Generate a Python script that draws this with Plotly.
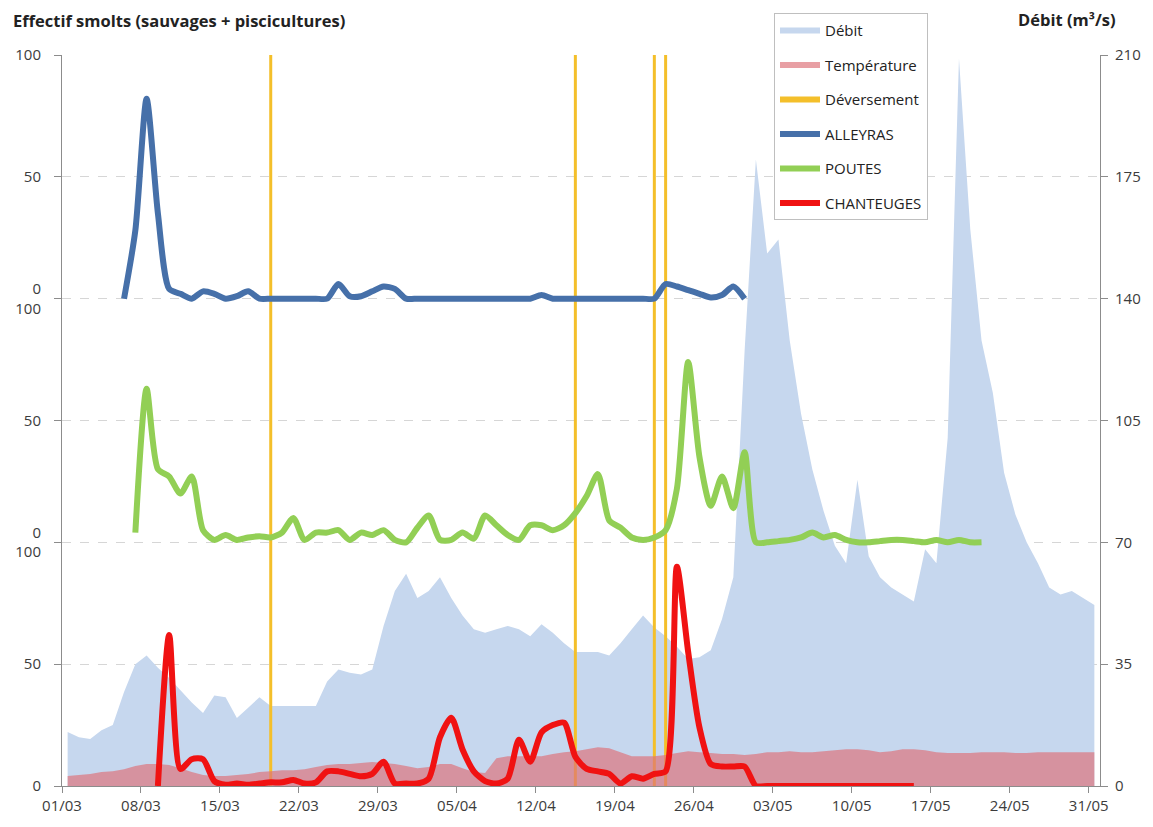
import pandas as pd
import plotly.graph_objects as go

# ---- daily calendar (01/03 -> 31/05), values plotted at the middle of each day
START = "2013-03-01"
N_DAYS = 92
days = pd.date_range(START, periods=N_DAYS, freq="D")
centres = days + pd.Timedelta(hours=12)

# ---- river flow (m3/s), one value per day
debit = [15.5, 14, 13.5, 16, 17.5, 27, 35, 37.5, 34, 31,
         27.5, 24, 21, 26, 25.5, 19.5, 22.5, 25.5, 23, 23,
         23, 23, 23, 30, 33.5, 32.5, 32, 33.5, 46, 56,
         61, 54, 56, 60, 54, 49, 45, 44, 45, 46,
         45, 43, 46.5, 44, 41, 38.5, 38.5, 38.5, 37.5, 41,
         45, 49, 45.5, 43, 40, 36.5, 37, 39, 48, 60,
         125, 180, 153, 157, 128, 107, 91, 79, 69, 64,
         88, 66, 60, 57, 55, 53, 68, 64, 100, 209,
         160, 128, 113, 90, 78, 70, 64, 57, 55, 56,
         54, 52]

# ---- water temperature, one value per day
temperature = [4.1, 4.5, 4.9, 5.7, 6.1, 6.9, 8.2, 9.0, 9.0, 8.6,
               7.3, 5.7, 4.5, 4.1, 4.1, 4.5, 4.9, 5.7, 6.1, 6.5,
               6.5, 6.9, 7.8, 8.6, 9.0, 9.0, 9.4, 9.8, 9.4, 9.0,
               8.2, 7.3, 7.8, 9.0, 9.0, 7.3, 5.7, 5.3, 11.4, 12.2,
               12.2, 12.2, 12.2, 13.1, 13.9, 14.3, 15.1, 15.9, 15.5, 13.9,
               12.2, 12.2, 12.2, 12.7, 13.5, 14.3, 13.9, 13.5, 13.1, 13.1,
               12.7, 13.1, 13.9, 13.9, 14.3, 13.9, 13.9, 14.3, 14.7, 15.1,
               15.1, 14.7, 13.9, 14.3, 15.1, 15.1, 14.7, 13.9, 13.5, 13.5,
               13.5, 13.9, 13.9, 13.9, 13.5, 13.5, 13.9, 13.9, 13.9, 13.9,
               13.9, 13.9]

# ---- spill days
deversements = ["2013-03-19", "2013-04-15", "2013-04-22", "2013-04-23"]

# ---- daily smolt counts per trapping site
alleyras_start = "2013-03-06"
alleyras = [0, 28, 82, 35, 4, 2, 0, 3, 2, 0,
            1, 3, 0, 0, 0, 0, 0, 0, 0, 6,
            1, 1, 3, 5, 4, 0, 0, 0, 0, 0,
            0, 0, 0, 0, 0, 0, 0, 1.5, 0, 0,
            0, 0, 0, 0, 0, 0, 0, 0, 6, 5,
            3.5, 2, 0.5, 1.5, 5, 0]

poutes_start = "2013-03-07"
poutes = [4, 63, 30, 27, 20, 27, 5, 1, 3, 1,
          2, 2.5, 2, 4, 10, 1, 4, 4, 5, 1,
          4, 3, 5, 1, 0, 6, 11, 1, 1, 4,
          1.5, 11, 7, 3, 1, 7, 7, 5, 7, 12,
          19, 28, 9, 6, 2, 1, 2, 5, 22, 74,
          35, 15, 27, 14, 37, 0, 0, 0.5, 1, 2,
          4, 2, 3, 1, 0, 0, 0.5, 1, 1, 0.5,
          0, 1, 0, 1, 0, 0]

chanteuges_start = "2013-03-09"
chanteuges = [0, 62, 7, 11, 11, 2, 0.5, 1, 0.5, 1,
              1.5, 1.5, 2.5, 1, 1.5, 6, 6, 5, 4, 5,
              10, 1, 1, 1, 3, 20, 28, 15, 6, 2,
              1, 3, 19, 10, 22, 25, 26, 12, 7, 6,
              5, 1, 4, 3, 5, 6, 90, 55, 24, 9,
              8, 8, 8, 0, 0, 0, 0, 0, 0, 0,
              0, 0, 0, 0, 0, 0, 0, 0]

# each site gets its own 0-100 band on the left axis
STACK = {"ALLEYRAS": 200, "POUTES": 100, "CHANTEUGES": 0}
DEBIT_MAX = 210
LEFT_MAX = 300
left_ticks = [0, 50, 100, 150, 200, 250, 300]
left_labels = ["0", "50", "0<br>100", "50", "0<br>100", "50", "100"]

C_DEBIT = "#c6d7ee"
C_TEMP = "rgba(221,113,121,0.68)"
C_DEV = "#f4bf2a"
C_ALL = "#4670a9"
C_POU = "#92cf55"
C_CHA = "#f01212"
AXIS = "#8c8c8c"
TXT = "#3c3c3c"
FONT = "Open Sans"


def series_x(start, values):
    i0 = (pd.Timestamp(start) - days[0]).days
    return centres[i0:i0 + len(values)]


fig = go.Figure()

# flow area (right axis, bottom layer)
fig.add_trace(go.Scatter(
    x=centres, y=debit, name="Débit", mode="none", fill="tozeroy",
    fillcolor=C_DEBIT, yaxis="y", legendrank=1, legendgroup="debit"))

# spill days as full-height vertical strokes
xs, ys = [], []
for d in deversements:
    t = pd.Timestamp(d) + pd.Timedelta(hours=12)
    xs += [t, t, None]
    ys += [0, DEBIT_MAX, None]
fig.add_trace(go.Scatter(
    x=xs, y=ys, mode="lines", line=dict(color=C_DEV, width=3),
    yaxis="y", showlegend=False, legendgroup="dev", hoverinfo="skip"))
fig.add_trace(go.Scatter(
    x=[None], y=[None], name="Déversement", mode="none", fill="toself",
    fillcolor=C_DEV, yaxis="y", legendrank=3, legendgroup="dev"))

# temperature area (left axis, under the count lines)
fig.add_trace(go.Scatter(
    x=centres, y=temperature, name="Température", mode="none", fill="tozeroy",
    fillcolor=C_TEMP, yaxis="y2", legendrank=2, legendgroup="temp"))

for name, start, vals, col, rank in [
        ("ALLEYRAS", alleyras_start, alleyras, C_ALL, 4),
        ("POUTES", poutes_start, poutes, C_POU, 5),
        ("CHANTEUGES", chanteuges_start, chanteuges, C_CHA, 6)]:
    fig.add_trace(go.Scatter(
        x=series_x(start, vals), y=[v + STACK[name] for v in vals],
        name=name, mode="lines", yaxis="y2", legendrank=rank, legendgroup=name,
        line=dict(color=col, width=6, shape="spline", smoothing=0.7)))

tick_font = dict(family=FONT, size=15, color=TXT)

fig.update_layout(
    width=1153, height=827,
    margin=dict(l=62, r=53, t=55, b=37),
    paper_bgcolor="white", plot_bgcolor="white",
    font=dict(family=FONT, color=TXT),
    showlegend=True,
    legend=dict(
        x=(774 - 62) / 1038, y=(790 - 13) / 735, xanchor="left", yanchor="top",
        bgcolor="white", bordercolor="#bfbfbf", borderwidth=1,
        font=dict(family=FONT, size=15, color="#222222"),
        itemwidth=40, tracegroupgap=12, traceorder="grouped",
        itemclick=False, itemdoubleclick=False),
    xaxis=dict(
        type="date", range=[days[0], days[-1] + pd.Timedelta(days=1)],
        tickvals=list(days[::7]), tickformat="%d/%m",
        ticks="outside", ticklen=6, tickcolor=AXIS,
        showline=True, linecolor=AXIS, linewidth=1,
        showgrid=False, zeroline=False, tickfont=tick_font),
    yaxis=dict(
        side="right", range=[0, DEBIT_MAX], tick0=0, dtick=35,
        ticks="outside", ticklen=7, tickcolor=AXIS,
        showline=True, linecolor=AXIS, linewidth=1,
        showgrid=True, gridcolor="#d6d6d6", griddash="dash", gridwidth=1,
        zeroline=False, tickfont=tick_font, ticklabelstandoff=4),
    yaxis2=dict(
        side="left", overlaying="y", range=[0, LEFT_MAX],
        tickvals=left_ticks, ticktext=left_labels,
        ticks="outside", ticklen=7, tickcolor=AXIS,
        showline=True, linecolor=AXIS, linewidth=1,
        showgrid=False, zeroline=False, tickfont=tick_font, ticklabelstandoff=10),
)

# axis titles
title_font = dict(family=FONT, size=16.5, color="#222222")
fig.add_annotation(x=-(62 - 11) / 1038, xref="paper", y=(790 - 20) / 735, yref="paper",
                   text="<b>Effectif smolts (sauvages + piscicultures)</b>",
                   showarrow=False, xanchor="left", yanchor="middle", font=title_font)
fig.add_annotation(x=(1118 - 62) / 1038, xref="paper", y=(790 - 19) / 735, yref="paper",
                   text="<b>Débit (m³/s)</b>",
                   showarrow=False, xanchor="right", yanchor="middle", font=title_font)

fig.write_html("out.html")
